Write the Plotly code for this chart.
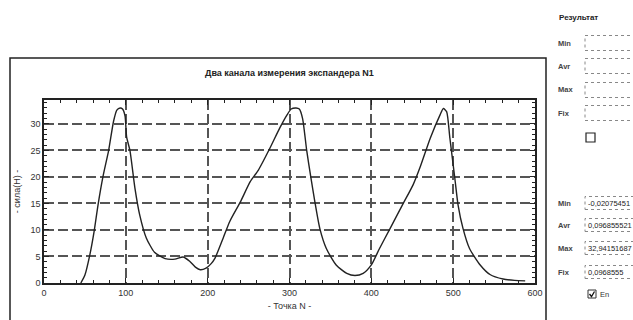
import plotly.graph_objects as go

# ---- data ----
points_n = [45, 50, 56, 61, 66, 72, 79, 85, 89, 93, 96, 99, 101, 105, 111, 117, 125, 135, 148,
            160, 170, 178, 185, 191, 198, 204, 209, 219, 227, 240, 252, 262, 276, 288, 297,
            302, 308, 312, 316, 321, 326, 331, 337, 345, 357, 370, 380, 390, 400, 410, 423,
            439, 451, 460, 472, 484, 488, 492, 496, 502, 506, 512, 520, 533, 545, 561, 575, 588]
force_n = [0.0, 1.5, 5.3, 9.5, 14.7, 20.0, 25.0, 30.5, 32.6, 33.0, 32.8, 31.5, 27.5, 25.0, 18.0,
           12.8, 8.5, 5.8, 4.6, 4.5, 4.9, 4.1, 3.0, 2.5, 2.8, 3.6, 4.7, 8.5, 11.6, 15.3, 19.1,
           21.3, 25.4, 29.2, 31.7, 32.8, 33.0, 32.8, 31.0, 25.0, 20.0, 15.3, 10.3, 6.5, 3.4, 1.8,
           1.4, 1.8, 3.4, 6.5, 10.3, 15.0, 18.5, 22.0, 27.3, 31.7, 32.9, 32.3, 27.3, 19.8, 14.7,
           10.3, 6.5, 3.4, 1.6, 0.75, 0.5, 0.4]

x_ticks = [0, 100, 200, 300, 400, 500, 600]
y_ticks = [0, 5, 10, 15, 20, 25, 30]

title_text = "Два канала измерения экспандера N1"
x_title = "- Точка N -"
y_title = "- сила(Н) -"
panel_title = "Результат"
labels = ["Min", "Avr", "Max", "Fix"]
values = ["-0,02075451", "0,096855521", "32,94151687", "0,0968555"]
check_label = "En"

FONT = "Liberation Sans, Arial, sans-serif"

W, H = 633, 320
L, R, T, B = 44, 535, 100, 283


def px(x):
    return (x - L) / (R - L)


def py(y):
    return (B - y) / (B - T)


fig = go.Figure()
fig.add_trace(go.Scatter(x=points_n, y=force_n, mode="lines",
                         line=dict(color="#222222", width=1.4, shape="spline", smoothing=0.6),
                         showlegend=False, hoverinfo="skip"))

axis_common = dict(showline=True, linecolor="#222", linewidth=1.5, mirror="allticks",
                   ticks="inside", ticklen=5, tickcolor="#222", tickwidth=1.2,
                   showgrid=True, gridcolor="#555", gridwidth=1.6, griddash="10px,4px",
                   zeroline=False,
                   tickfont=dict(family=FONT, size=9, color="#333"))

fig.update_xaxes(range=[0, 600], tickvals=x_ticks,
                 minor=dict(dtick=20, ticks="inside", ticklen=3, tickcolor="#222", showgrid=False),
                 title=dict(text=x_title, font=dict(family=FONT, size=9, color="#333"), standoff=6),
                 **axis_common)
fig.update_yaxes(range=[0, 34.5], tickvals=y_ticks,
                 minor=dict(dtick=1, ticks="inside", ticklen=3, tickcolor="#222", showgrid=False),
                 title=dict(text=y_title, font=dict(family=FONT, size=9, color="#333"), standoff=8),
                 **axis_common)

shapes = []
annotations = []
# outer frame of the chart panel
shapes.append(dict(type="rect", xref="paper", yref="paper",
                   x0=px(10), x1=px(546), y0=py(360), y1=py(58),
                   line=dict(color="#222", width=1.5), fillcolor="rgba(0,0,0,0)", layer="below"))
annotations.append(dict(text="<b>" + title_text + "</b>", xref="paper", yref="paper",
                        x=px(289.5), y=py(73), showarrow=False,
                        font=dict(family=FONT, size=9, color="#222"),
                        xanchor="center", yanchor="middle"))

# right panel
annotations.append(dict(text="<b>" + panel_title + "</b>", xref="paper", yref="paper",
                        x=px(557), y=py(18), showarrow=False, xanchor="left", yanchor="middle",
                        font=dict(family=FONT, size=8, color="#222")))

upper_rows = [43, 66, 90, 113]
lower_rows = [203, 225, 248, 272]
for i, lab in enumerate(labels):
    for yy, hh in ((upper_rows[i], 15), (lower_rows[i], 13)):
        annotations.append(dict(text="<b>" + lab + "</b>", xref="paper", yref="paper",
                                x=px(556), y=py(yy),
                                showarrow=False, xanchor="left", yanchor="middle",
                                font=dict(family=FONT, size=7.5, color="#444")))
        shapes.append(dict(type="rect", xref="paper", yref="paper",
                           x0=px(585), x1=px(645), y0=py(yy + hh / 2), y1=py(yy - hh / 2),
                           line=dict(color="#888", width=1, dash="dot"),
                           fillcolor="white"))
    annotations.append(dict(text=values[i], xref="paper", yref="paper", x=px(586),
                            y=py(lower_rows[i]), showarrow=False, xanchor="left",
                            yanchor="middle", font=dict(family=FONT, size=7.5, color="#222")))

# checkboxes
shapes.append(dict(type="rect", xref="paper", yref="paper", x0=px(586), x1=px(595),
                   y0=py(142), y1=py(133), line=dict(color="#222", width=1.2),
                   fillcolor="white"))
shapes.append(dict(type="rect", xref="paper", yref="paper", x0=px(588), x1=px(596),
                   y0=py(298), y1=py(290), line=dict(color="#333", width=1),
                   fillcolor="white"))
shapes.append(dict(type="path", xref="paper", yref="paper",
                   path="M {} {} L {} {} L {} {}".format(px(589.5), py(294), px(591.5), py(296.5),
                                                        px(594.5), py(291.5)),
                   line=dict(color="#111", width=1.3)))
annotations.append(dict(text=check_label, xref="paper", yref="paper", x=px(598), y=py(294),
                        showarrow=False, xanchor="left", yanchor="middle",
                        font=dict(family=FONT, size=7.5, color="#333")))

fig.update_layout(width=W, height=H, margin=dict(l=L, r=W - R, t=T, b=H - B, autoexpand=False),
                  paper_bgcolor="white", plot_bgcolor="white",
                  shapes=shapes, annotations=annotations, showlegend=False)

fig.write_html("out.html", config={"displayModeBar": False},
               post_script="document.body.style.margin='0px';document.body.style.overflow='hidden';")
